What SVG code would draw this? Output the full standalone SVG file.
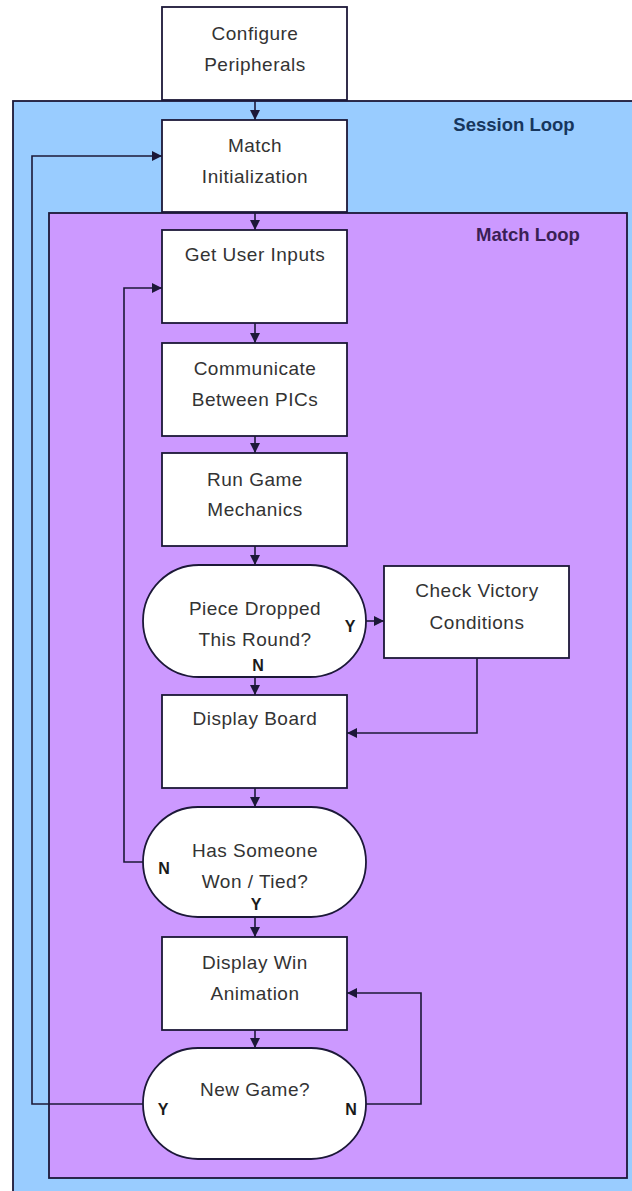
<svg xmlns="http://www.w3.org/2000/svg" width="632" height="1191" viewBox="0 0 632 1191">
<style>
.box{fill:#ffffff;stroke:#1c1838;stroke-width:1.8}
.t{font-family:"Liberation Sans",Arial,sans-serif;font-size:19px;letter-spacing:0.5px;fill:#333333;text-anchor:middle}
.yn{font-family:"Liberation Sans",Arial,sans-serif;font-size:16px;font-weight:bold;fill:#1a1a1a;text-anchor:middle}
.lbl{font-family:"Liberation Sans",Arial,sans-serif;font-size:18.5px;font-weight:bold;text-anchor:middle}
.c{fill:none;stroke:#1c1838;stroke-width:1.6}
</style>
<defs>
<marker id="ah" markerUnits="userSpaceOnUse" markerWidth="10" markerHeight="10" refX="10" refY="5" orient="auto">
<path d="M0,0 L10,5 L0,10 z" fill="#1c1838"/>
</marker>
</defs>
<rect width="632" height="1191" fill="#ffffff"/>
<g id="session-loop">
<rect x="13" y="101" width="640" height="1110" fill="#99CCFF" stroke="#1c1838" stroke-width="1.8"/>
<text class="lbl" x="514" y="131" fill="#17365D">Session Loop</text>
</g>
<g id="match-loop">
<rect x="49" y="213" width="578" height="965" fill="#CC99FF" stroke="#1c1838" stroke-width="1.8"/>
<text class="lbl" x="528" y="241" fill="#3A1F55">Match Loop</text>
</g>
<g id="configure-peripherals">
<rect class="box" x="162" y="7" width="185" height="93"/>
<text class="t" x="255" y="40">Configure</text>
<text class="t" x="255" y="71">Peripherals</text>
</g>
<g id="match-initialization">
<rect class="box" x="162" y="120" width="185" height="92"/>
<text class="t" x="255" y="152">Match</text>
<text class="t" x="255" y="183">Initialization</text>
</g>
<g id="get-user-inputs">
<rect class="box" x="162" y="230" width="185" height="93"/>
<text class="t" x="255" y="261">Get User Inputs</text>
</g>
<g id="communicate">
<rect class="box" x="162" y="343" width="185" height="93"/>
<text class="t" x="255" y="375">Communicate</text>
<text class="t" x="255" y="406">Between PICs</text>
</g>
<g id="run-game-mechanics">
<rect class="box" x="162" y="453" width="185" height="93"/>
<text class="t" x="255" y="486">Run Game</text>
<text class="t" x="255" y="516">Mechanics</text>
</g>
<g id="piece-dropped">
<rect class="box" x="143" y="565" width="223" height="112" rx="56" ry="56"/>
<text class="t" x="255" y="615">Piece Dropped</text>
<text class="t" x="255" y="646">This Round?</text>
<text class="yn" x="350" y="632">Y</text>
<text class="yn" x="258" y="671">N</text>
</g>
<g id="check-victory">
<rect class="box" x="384" y="566" width="185" height="92"/>
<text class="t" x="477" y="597">Check Victory</text>
<text class="t" x="477" y="629">Conditions</text>
</g>
<g id="display-board">
<rect class="box" x="162" y="695" width="185" height="93"/>
<text class="t" x="255" y="725">Display Board</text>
</g>
<g id="has-someone-won">
<rect class="box" x="143" y="807" width="223" height="110" rx="55" ry="55"/>
<text class="t" x="255" y="857">Has Someone</text>
<text class="t" x="255" y="888">Won / Tied?</text>
<text class="yn" x="164" y="874">N</text>
<text class="yn" x="256" y="910">Y</text>
</g>
<g id="display-win-animation">
<rect class="box" x="162" y="937" width="185" height="93"/>
<text class="t" x="255" y="969">Display Win</text>
<text class="t" x="255" y="1000">Animation</text>
</g>
<g id="new-game">
<rect class="box" x="143" y="1048" width="223" height="111" rx="55" ry="55"/>
<text class="t" x="255" y="1096">New Game?</text>
<text class="yn" x="163" y="1115">Y</text>
<text class="yn" x="351" y="1115">N</text>
</g>
<g id="connectors">
<path class="c" d="M255,100 V120" marker-end="url(#ah)"/>
<path class="c" d="M255,212 V230" marker-end="url(#ah)"/>
<path class="c" d="M255,323 V343" marker-end="url(#ah)"/>
<path class="c" d="M255,436 V453" marker-end="url(#ah)"/>
<path class="c" d="M255,546 V565" marker-end="url(#ah)"/>
<path class="c" d="M366,621 H384" marker-end="url(#ah)"/>
<path class="c" d="M255,677 V695" marker-end="url(#ah)"/>
<path class="c" d="M477,658 V733 H347" marker-end="url(#ah)"/>
<path class="c" d="M255,788 V807" marker-end="url(#ah)"/>
<path class="c" d="M143,862 H124 V288 H162" marker-end="url(#ah)"/>
<path class="c" d="M255,917 V937" marker-end="url(#ah)"/>
<path class="c" d="M255,1030 V1048" marker-end="url(#ah)"/>
<path class="c" d="M143,1104 H32 V156 H162" marker-end="url(#ah)"/>
<path class="c" d="M366,1104 H421 V993 H347" marker-end="url(#ah)"/>
</g>
</svg>
